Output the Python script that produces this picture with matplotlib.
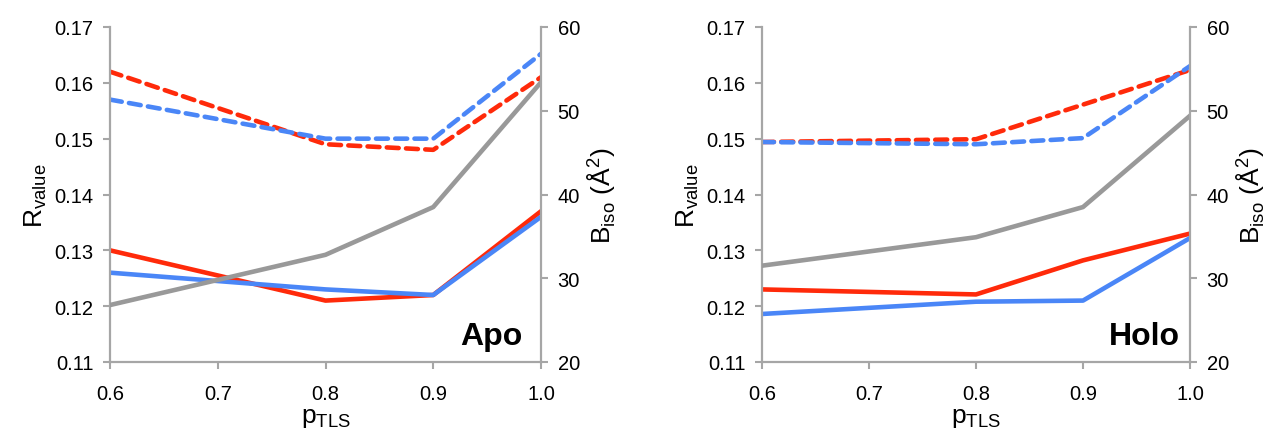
import matplotlib.pyplot as plt
from matplotlib.ticker import FormatStrFormatter

plt.rcParams['font.family'] = ['Liberation Sans', 'DejaVu Sans']
plt.rcParams['mathtext.fontset'] = 'custom'
plt.rcParams['mathtext.rm'] = 'Liberation Sans'

# data
p_tls = [0.6, 0.8, 0.9, 1.0]

apo_rfree_red = [0.162, 0.149, 0.148, 0.161]
apo_rfree_blue = [0.157, 0.150, 0.150, 0.1652]
apo_rwork_red = [0.130, 0.121, 0.122, 0.137]
apo_rwork_blue = [0.126, 0.123, 0.122, 0.136]
apo_biso = [26.8, 32.8, 38.5, 53.4]

holo_rfree_red = [0.1494, 0.1499, 0.1561, 0.1623]
holo_rfree_blue = [0.1494, 0.1490, 0.1501, 0.1630]
holo_rwork_red = [0.1230, 0.1221, 0.1282, 0.1330]
holo_rwork_blue = [0.1186, 0.1208, 0.1210, 0.1322]
holo_biso = [31.5, 34.9, 38.5, 49.4]

RED = '#ff2a0a'
BLUE = '#4a86f7'
GRAY = '#999999'
SPINE = '#a6a6a6'

fig = plt.figure(figsize=(12.68, 4.31), dpi=100)

panels = [
    ([110 / 1268, 1 - 363 / 431, 431 / 1268, 335 / 431], 'Apo', 0.958,
     apo_rfree_red, apo_rfree_blue, apo_rwork_red, apo_rwork_blue, apo_biso),
    ([762 / 1268, 1 - 363 / 431, 428 / 1268, 335 / 431], 'Holo', 0.977,
     holo_rfree_red, holo_rfree_blue, holo_rwork_red, holo_rwork_blue, holo_biso),
]

for pos, name, name_x, rf_r, rf_b, rw_r, rw_b, biso in panels:
    ax = fig.add_axes(pos)
    ax2 = ax.twinx()

    lw = 3.3
    dash = dict(ls=(0, (2.6, 1.6)), dash_capstyle='round')
    ax.plot(p_tls, rf_r, color=RED, lw=lw, **dash)
    ax.plot(p_tls, rf_b, color=BLUE, lw=lw, **dash)
    ax.plot(p_tls, rw_r, color=RED, lw=lw)
    ax.plot(p_tls, rw_b, color=BLUE, lw=lw)
    ax2.plot(p_tls, biso, color=GRAY, lw=lw)

    ax.set_xlim(0.6, 1.0)
    ax.set_ylim(0.11, 0.17)
    ax2.set_ylim(20, 60)
    ax.set_xticks([0.6, 0.7, 0.8, 0.9, 1.0])
    ax.set_yticks([0.11, 0.12, 0.13, 0.14, 0.15, 0.16, 0.17])
    ax2.set_yticks([20, 30, 40, 50, 60])
    ax.xaxis.set_major_formatter(FormatStrFormatter('%.1f'))
    ax.yaxis.set_major_formatter(FormatStrFormatter('%.2f'))

    for a in (ax, ax2):
        a.spines['top'].set_visible(False)
        for s in ('left', 'right', 'bottom'):
            a.spines[s].set_color(SPINE)
            a.spines[s].set_linewidth(1.6)
        a.tick_params(labelsize=14.5, color=SPINE, width=1.5, length=5)
    ax.spines['right'].set_visible(False)
    ax2.spines['left'].set_visible(False)
    ax2.spines['bottom'].set_visible(False)
    ax.tick_params(axis='x', pad=10.5)
    ax.tick_params(axis='y', pad=7)
    ax2.tick_params(axis='y', pad=7)

    ax.set_xlabel(r'p$_\mathregular{TLS}$', fontsize=19, labelpad=2)
    ax.set_ylabel(r'R$_\mathregular{value}$', fontsize=19, labelpad=4)
    ax2.set_ylabel(r'B$_\mathregular{iso}$ (Å$^\mathregular{2}$)', fontsize=19, labelpad=4)

    ax.text(name_x, 0.054, name, transform=ax.transAxes, ha='right', va='baseline',
            fontsize=23, fontweight='bold')

fig.savefig('out.png', dpi=100)
